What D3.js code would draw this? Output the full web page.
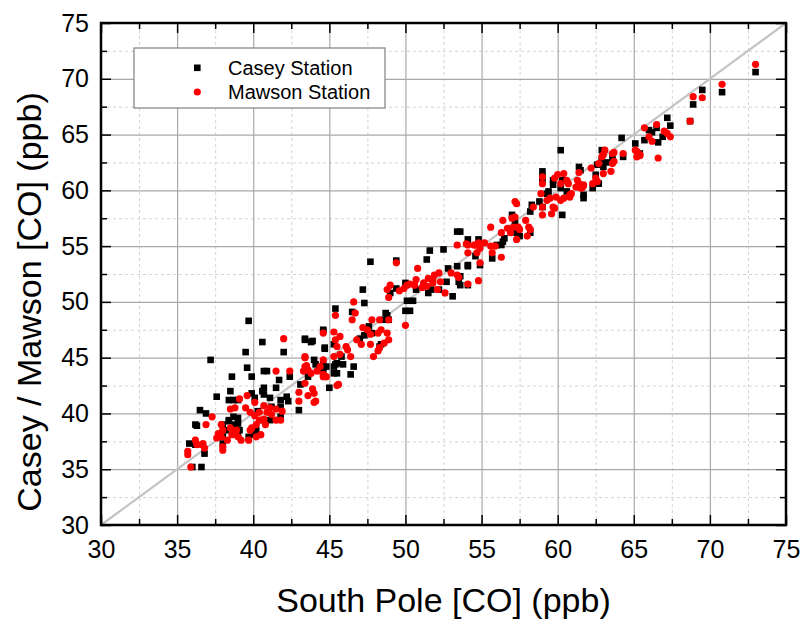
<!DOCTYPE html>
<html>
<head>
<meta charset="utf-8">
<script src="https://cdn.jsdelivr.net/npm/d3@7"></script>
<style>
  body { margin: 0; background: #fff; }
  text { font-family: "Liberation Sans", Arial, sans-serif; }
</style>
</head>
<body>
<div id="chart"></div>
<script>
// Casey station vs South Pole, [southPole, casey]
const casey = [
  [73.0,70.6],[70.8,68.8],[69.5,69.0],[68.9,67.7],[68.7,66.2],[67.2,66.5],[67.4,65.8],[66.0,65.4],[66.2,65.2],
  [66.6,64.3],[64.2,64.7],[65.1,64.2],[65.4,63.3],[65.7,64.5],[64.3,63.0],[63.6,62.9],[62.9,63.6],[63.0,62.1],
  [62.5,61.4],[62.3,60.2],[62.7,60.6],[61.7,59.6],[61.7,59.3],[61.5,61.8],[66.5,65.6],[66.9,64.8],
  [60.2,63.6],[62.9,62.7],[63.2,62.5],[62.6,62.3],[61.4,62.1],[60.6,59.9],[60.2,60.2],[60.3,60.9],[59.7,60.5],
  [59.7,60.9],[59.0,61.7],[59.0,61.2],[59.0,60.9],[59.4,59.9],[59.3,59.7],[58.8,59.0],[59.0,58.5],[60.3,57.8],
  [58.3,58.7],[58.2,58.1],[57.0,57.8],[57.2,57.1],[57.3,56.2],[57.5,55.9],[56.5,55.7],[56.3,55.1],[58.2,56.2],
  [54.8,55.6],[54.1,55.6],[54.6,54.1],[55.7,53.9],[54.1,53.2],[54.9,53.3],[56.0,55.1],[56.4,55.4],[53.6,56.3],
  [53.6,52.3],[53.4,56.3],[52.5,54.7],[51.6,54.6],[51.4,53.8],[49.4,53.7],[47.7,53.6],[53.4,53.2],[52.8,53.0],
  [54.1,53.3],[52.7,51.8],[53.5,51.8],[53.6,51.5],[54.1,51.5],[53.1,50.5],[52.2,51.1],[51.7,51.1],[51.5,50.8],
  [51.2,51.5],[50.7,51.1],[50.5,50.1],[50.1,50.1],[50.0,49.2],[50.3,49.2],[50.0,51.7],[49.4,51.2],[49.0,50.8],
  [48.8,48.8],[48.9,48.4],[47.3,49.9],[47.2,51.1],[46.5,49.1],[48.7,49.0],[48.6,48.4],[47.6,47.8],[47.3,47.0],
  [47.0,46.7],[47.8,47.2],[48.4,46.2],[48.3,46.0],[45.4,49.4],[44.6,47.5],[43.4,46.7],[43.9,46.5],[44.7,45.9],
  [45.3,46.2],[46.6,44.2],[46.4,43.5],[45.9,44.4],[45.5,44.5],[45.3,44.2],[44.8,44.2],[44.0,44.8],[44.6,44.1],
  [45.3,43.6],[45.8,45.1],[40.6,46.4],[39.5,45.5],[37.2,44.8],[42.0,45.5],[43.4,46.6],[43.8,46.4],[39.6,44.1],
  [39.9,43.3],[38.6,43.3],[40.7,43.8],[40.9,43.8],[41.7,43.0],[41.5,42.3],[42.4,43.3],[43.1,42.6],[43.6,43.3],
  [44.1,44.4],[44.6,44.4],[45.4,44.4],[45.5,43.6],[44.6,43.6],[45.0,42.3],[38.5,42.0],[38.7,41.2],[38.4,41.2],
  [39.0,41.2],[39.9,41.8],[40.1,41.4],[40.7,41.7],[41.1,41.4],[41.2,40.6],[41.8,41.2],[41.8,40.6],[42.2,41.5],
  [42.3,41.1],[43.0,40.3],[40.7,42.3],[40.6,42.0],[37.6,41.5],[36.5,40.3],[36.9,40.0],[36.2,39.0],[38.4,39.4],
  [39.0,39.6],[40.3,40.2],[40.6,39.4],[41.1,39.4],[41.8,39.7],[38.0,37.9],[38.0,37.3],[38.2,38.5],[39.0,38.1],
  [39.1,38.5],[39.7,37.9],[40.1,38.1],[38.7,39.7],[38.4,39.3],[36.8,36.4],[36.6,35.2],[36.0,35.2],[35.8,37.3],
  [36.2,37.2],[38.0,39.0],[40.2,38.5],[38.8,39.0],[39.0,39.1],[39.7,48.3],[44.6,47.4],[44.7,45.8],[36.3,38.9]
];

// Mawson station vs South Pole, [southPole, mawson]
const mawson = [
  [73.0,71.3],[70.8,69.5],[69.5,68.3],[68.9,68.4],[68.7,66.2],[66.5,65.9],[65.7,65.6],[66.0,64.8],[66.2,64.4],
  [67.0,65.3],[67.2,65.1],[67.4,64.8],[66.6,62.9],[65.2,63.5],[65.2,63.0],[65.4,63.1],[64.3,63.3],[63.7,63.4],
  [63.1,63.6],[63.0,63.2],[62.9,63.0],[63.6,62.4],[63.5,61.7],[62.7,62.4],[62.2,62.0],[62.5,61.1],[62.3,60.6],
  [63.0,61.5],[61.7,60.4],[61.6,60.2],[65.1,63.6],[65.4,63.2],[63.6,63.3],[63.7,62.6],[62.6,60.8],[61.4,61.6],
  [61.3,60.9],[61.4,60.6],[61.2,60.3],[61.5,60.2],[61.7,60.5],[60.8,59.6],[60.9,59.7],[60.0,61.4],[60.4,61.5],
  [60.6,60.9],[60.2,60.6],[59.8,61.1],[60.7,60.6],[60.4,59.3],[60.8,59.4],[60.2,59.1],[59.9,59.4],[59.0,61.2],
  [59.0,60.6],[59.5,59.3],[59.3,59.1],[58.9,59.7],[59.0,58.5],[59.7,58.5],[59.6,57.9],[59.8,58.4],[59.0,57.8],
  [58.4,58.5],[57.9,57.3],[57.2,59.0],[57.3,58.8],[56.4,57.3],[57.0,57.5],[57.2,57.6],[57.1,56.7],[56.7,56.6],
  [57.4,56.7],[57.5,56.5],[58.1,56.7],[58.2,56.5],[58.0,55.9],[57.3,55.6],[56.9,56.2],[55.6,56.7],[56.3,56.2],
  [55.9,55.0],[55.6,55.0],[55.2,55.3],[54.8,55.3],[54.6,55.1],[54.1,55.1],[54.1,54.4],[54.9,54.8],[55.7,54.4],
  [56.3,54.0],[54.9,53.5],[53.4,55.1],[54.0,55.2],[54.5,55.1],[54.7,54.4],[49.4,53.5],[48.8,51.1],[53.4,52.4],
  [53.0,52.6],[52.2,52.6],[51.9,52.4],[51.5,52.1],[50.7,52.0],[50.8,53.0],[51.4,51.4],[51.8,51.7],[52.3,51.8],
  [51.2,51.7],[54.1,51.6],[54.8,51.9],[53.5,52.2],[52.6,50.8],[52.1,51.1],[51.8,51.9],[51.1,51.3],[50.6,51.5],
  [50.3,51.6],[50.1,51.5],[49.6,51.0],[49.9,51.2],[50.0,47.9],[49.0,51.5],[48.9,50.4],[48.9,48.4],[48.3,48.4],
  [48.4,47.5],[47.8,48.4],[47.2,47.7],[47.7,47.1],[47.5,47.5],[48.2,47.2],[48.8,47.2],[48.9,46.6],[48.6,46.3],
  [48.3,45.9],[47.9,45.1],[47.7,46.2],[47.1,46.2],[46.8,46.6],[48.2,45.6],[46.6,50.0],[46.7,49.0],[46.5,48.4],
  [45.4,48.8],[45.7,46.9],[45.4,46.6],[44.6,47.2],[45.3,47.3],[45.5,46.0],[46.1,46.0],[46.2,45.7],[46.4,45.1],
  [45.7,45.3],[45.3,45.1],[44.6,44.8],[44.4,44.2],[43.4,45.1],[43.4,44.2],[43.6,43.9],[44.2,43.8],[44.6,43.5],
  [45.6,42.6],[42.0,46.7],[41.5,43.8],[42.4,43.8],[43.4,45.0],[43.5,44.3],[43.3,43.8],[43.8,43.6],[44.6,43.3],
  [43.4,42.7],[43.9,42.2],[43.0,41.9],[44.0,41.8],[43.6,41.6],[44.1,41.1],[43.0,41.1],[44.0,41.0],[44.8,43.3],
  [45.5,42.5],[39.6,41.6],[39.1,41.3],[38.5,40.4],[38.8,40.5],[39.5,40.5],[40.1,41.0],[39.8,40.1],[40.7,40.7],
  [41.1,40.5],[41.2,39.9],[40.4,40.1],[40.9,40.1],[40.7,39.5],[41.5,40.4],[41.9,40.2],[41.5,39.4],[41.8,39.4],
  [40.4,39.4],[40.1,39.8],[36.9,39.0],[37.9,39.0],[38.0,38.5],[38.5,38.7],[38.7,38.4],[38.9,38.5],[38.6,38.1],
  [39.0,37.9],[39.2,37.6],[38.3,37.6],[37.9,37.9],[37.6,37.8],[37.7,38.2],[39.8,38.5],[39.9,38.7],[39.7,37.6],
  [40.2,37.9],[40.5,38.1],[38.0,37.0],[38.0,36.7],[36.2,37.6],[36.3,37.2],[36.6,37.2],[36.8,36.9],[36.7,37.3],
  [35.7,36.6],[35.7,36.3],[35.9,35.2],[37.3,39.7],[40.2,39.0],[40.8,39.0]
];

const majorTicks = [30, 35, 40, 45, 50, 55, 60, 65, 70, 75];
const minorTicks = [32.5, 37.5, 42.5, 47.5, 52.5, 57.5, 62.5, 67.5, 72.5];
const legendLabels = ["Casey Station", "Mawson Station"];

const W = 802, H = 623;
const margin = { top: 23, right: 16, bottom: 98, left: 101 };
const width = W - margin.left - margin.right;
const height = H - margin.top - margin.bottom;

const svg = d3.select("#chart").append("svg")
  .attr("width", W)
  .attr("height", H);

const g = svg.append("g").attr("transform", `translate(${margin.left},${margin.top})`);

const x = d3.scaleLinear().domain([30, 75]).range([0, width]);
const y = d3.scaleLinear().domain([30, 75]).range([height, 0]);

// minor grid (dashed)
g.append("g")
  .attr("transform", `translate(0,${height})`)
  .call(d3.axisBottom(x).tickValues(minorTicks).tickSize(-height).tickFormat(""))
  .call(a => a.select(".domain").remove())
  .selectAll("line").attr("stroke", "#d4d4d4").attr("stroke-dasharray", "3,3");
g.append("g")
  .call(d3.axisLeft(y).tickValues(minorTicks).tickSize(-width).tickFormat(""))
  .call(a => a.select(".domain").remove())
  .selectAll("line").attr("stroke", "#d4d4d4").attr("stroke-dasharray", "3,3");

// major grid
g.append("g")
  .attr("transform", `translate(0,${height})`)
  .call(d3.axisBottom(x).tickValues(majorTicks.slice(1, -1)).tickSize(-height).tickFormat(""))
  .call(a => a.select(".domain").remove())
  .selectAll("line").attr("stroke", "#a8a8a8").attr("stroke-width", 1.2);
g.append("g")
  .call(d3.axisLeft(y).tickValues(majorTicks.slice(1, -1)).tickSize(-width).tickFormat(""))
  .call(a => a.select(".domain").remove())
  .selectAll("line").attr("stroke", "#a8a8a8").attr("stroke-width", 1.2);

// 1:1 line
g.append("line")
  .attr("x1", x(30)).attr("y1", y(30))
  .attr("x2", x(75)).attr("y2", y(75))
  .attr("stroke", "#c4c4c4")
  .attr("stroke-width", 2.2);

// points
g.append("g").selectAll("rect")
  .data(casey)
  .enter()
  .append("rect")
  .attr("x", d => x(d[0]) - 3.3)
  .attr("y", d => y(d[1]) - 3.3)
  .attr("width", 6.6)
  .attr("height", 6.6)
  .attr("fill", "#000");

g.append("g").selectAll("circle")
  .data(mawson)
  .enter()
  .append("circle")
  .attr("cx", d => x(d[0]))
  .attr("cy", d => y(d[1]))
  .attr("r", 3.6)
  .attr("fill", "#ff0000");

// axes with inward ticks
function styleAxis(a) {
  a.select(".domain").remove();
  a.selectAll("line").attr("stroke", "#000").attr("stroke-width", 1.5);
}
const xb = g.append("g").attr("transform", `translate(0,${height})`)
  .call(d3.axisBottom(x).tickValues(majorTicks).tickSizeInner(-10).tickSizeOuter(0).tickPadding(15).tickFormat(d3.format("d")));
xb.call(styleAxis);
xb.selectAll("text").attr("font-size", 25).attr("fill", "#000");
g.append("g").attr("transform", `translate(0,${height})`)
  .call(d3.axisBottom(x).tickValues(minorTicks).tickSize(-6).tickFormat(""))
  .call(styleAxis);

g.append("g")
  .call(d3.axisTop(x).tickValues(majorTicks).tickSizeInner(-10).tickSizeOuter(0).tickFormat(""))
  .call(styleAxis);
g.append("g")
  .call(d3.axisTop(x).tickValues(minorTicks).tickSize(-6).tickFormat(""))
  .call(styleAxis);

const yl = g.append("g")
  .call(d3.axisLeft(y).tickValues(majorTicks).tickSizeInner(-10).tickSizeOuter(0).tickPadding(12).tickFormat(d3.format("d")));
yl.call(styleAxis);
yl.selectAll("text").attr("font-size", 25).attr("fill", "#000");
g.append("g")
  .call(d3.axisLeft(y).tickValues(minorTicks).tickSize(-6).tickFormat(""))
  .call(styleAxis);

g.append("g").attr("transform", `translate(${width},0)`)
  .call(d3.axisRight(y).tickValues(majorTicks).tickSizeInner(-10).tickSizeOuter(0).tickFormat(""))
  .call(styleAxis);
g.append("g").attr("transform", `translate(${width},0)`)
  .call(d3.axisRight(y).tickValues(minorTicks).tickSize(-6).tickFormat(""))
  .call(styleAxis);

// frame
g.append("rect")
  .attr("width", width)
  .attr("height", height)
  .attr("fill", "none")
  .attr("stroke", "#000")
  .attr("stroke-width", 2.5);

// legend
const legend = g.append("g").attr("transform", "translate(33,25)");
legend.append("rect")
  .attr("x", 0).attr("y", 0)
  .attr("width", 251).attr("height", 60)
  .attr("fill", "#fff")
  .attr("stroke", "#808080")
  .attr("stroke-width", 1.2);
legend.append("rect")
  .attr("x", 60).attr("y", 16.5)
  .attr("width", 6.6).attr("height", 6.6)
  .attr("fill", "#000");
legend.append("circle")
  .attr("cx", 63.3).attr("cy", 44)
  .attr("r", 3.6)
  .attr("fill", "#ff0000");
legend.selectAll("text.leg")
  .data(legendLabels)
  .enter()
  .append("text")
  .attr("class", "leg")
  .attr("x", 94)
  .attr("y", (d, i) => 27 + i * 24)
  .attr("font-size", 20)
  .attr("fill", "#000")
  .text(d => d);

// axis titles
svg.append("text")
  .attr("x", margin.left + width / 2)
  .attr("y", 612)
  .attr("text-anchor", "middle")
  .attr("font-size", 34)
  .attr("fill", "#000")
  .text("South Pole [CO] (ppb)");

svg.append("text")
  .attr("transform", `translate(41,${margin.top + height / 2 + 28}) rotate(-90)`)
  .attr("text-anchor", "middle")
  .attr("font-size", 34)
  .attr("fill", "#000")
  .text("Casey / Mawson [CO] (ppb)");
</script>
</body>
</html>
